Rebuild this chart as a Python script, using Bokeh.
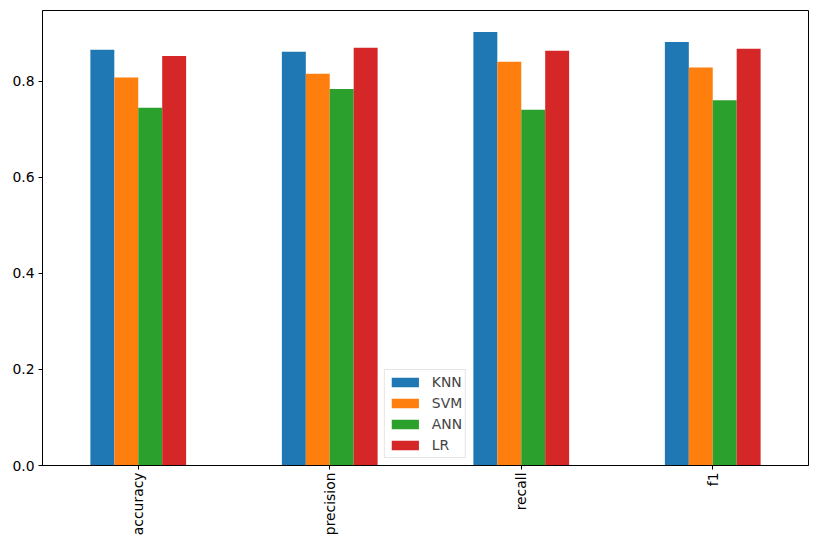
import math
from bokeh.plotting import figure
from bokeh.models import ColumnDataSource, FactorRange, Range1d, FixedTicker, PrintfTickFormatter, Legend, LegendItem
from bokeh.transform import dodge
from bokeh.embed import file_html
from bokeh.resources import INLINE

metrics = ["accuracy", "precision", "recall", "f1"]
models = ["KNN", "SVM", "ANN", "LR"]
knn = [0.866, 0.862, 0.903, 0.882]
svm = [0.808, 0.816, 0.841, 0.829]
ann = [0.745, 0.784, 0.741, 0.761]
lr = [0.853, 0.870, 0.864, 0.868]
colors = ["#1f77b4", "#ff7f0e", "#2ca02c", "#d62728"]
y_ticks = [0.0, 0.2, 0.4, 0.6, 0.8]

src = ColumnDataSource(dict(metric=metrics, KNN=knn, SVM=svm, ANN=ann, LR=lr))

p = figure(width=810, height=538, x_range=FactorRange(*metrics, range_padding=0),
           y_range=Range1d(0, 0.9477), output_backend="svg", toolbar_location=None,
           min_border_left=42, min_border_right=2, min_border_top=10, min_border_bottom=71)

bw = 0.125
offsets = [-1.5 * bw, -0.5 * bw, 0.5 * bw, 1.5 * bw]
items = []
for m, c, off in zip(models, colors, offsets):
    r = p.vbar(x=dodge("metric", off, range=p.x_range), top=m, width=bw, source=src,
               fill_color=c, line_color=None)
    items.append(LegendItem(label=m, renderers=[r]))

legend = Legend(items=items, location="bottom_center", margin=7, padding=3, spacing=3,
                glyph_width=34, glyph_height=12, label_height=18, label_standoff=10,
                label_text_font="DejaVu Sans", label_text_font_size="13.9px",
                border_line_color="#cccccc", border_line_width=1,
                background_fill_color="white", background_fill_alpha=0.8)
p.add_layout(legend, "center")

p.xgrid.visible = False
p.ygrid.visible = False
p.outline_line_color = "black"
p.outline_line_width = 1
p.outline_line_alpha = 1

for ax in [p.xaxis[0], p.yaxis[0]]:
    ax.axis_line_color = "black"
    ax.major_tick_line_color = "black"
    ax.major_tick_out = 4
    ax.major_tick_in = 0
    ax.minor_tick_line_color = None
    ax.major_label_text_font = "DejaVu Sans"
    ax.major_label_text_font_size = "13.9px"
    ax.major_label_text_color = "black"
    ax.major_label_standoff = 4

p.xaxis.major_label_standoff = 3
p.yaxis.ticker = FixedTicker(ticks=y_ticks)
p.yaxis.formatter = PrintfTickFormatter(format="%.1f")
p.xaxis.major_label_orientation = math.pi / 2

open("out.html", "w").write(file_html(p, INLINE))
